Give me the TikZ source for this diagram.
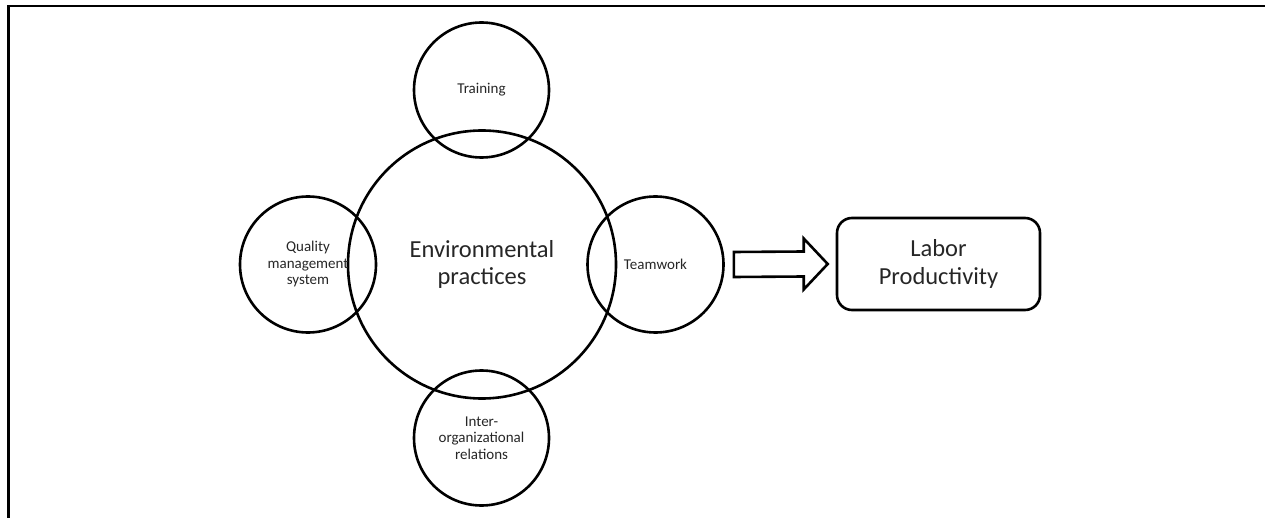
\documentclass[tikz,border=0pt]{standalone}
\usepackage{fontspec}
\setmainfont{Carlito}
\usetikzlibrary{calc}
\begin{document}
\begin{tikzpicture}[x=1pt,y=-1pt,
  ring/.style={draw=black,line width=2.6pt,circle,inner sep=0pt,minimum size=#1,text=black!85,align=center},
  smalltxt/.style={font=\fontsize{15}{16.5}\selectfont},
  bigtxt/.style={font=\fontsize{24.5}{27.5}\selectfont},
  outbox/.style={draw=black,line width=2.6pt,rounded corners=15pt,minimum width=203pt,minimum height=92pt,inner sep=0pt,text=black!85,align=center},
  blockarrow/.style={draw=black,line width=2.6pt,line join=miter}
]
\useasboundingbox (0,0) rectangle (1265,518);
% frame
\draw[line width=2.6pt] (8.5,518) -- (8.5,6) -- (1265,6);
% circles
\node[ring=268pt,bigtxt] (env) at (482,264.5) {Environmental\\practices};
\node[ring=135pt,smalltxt] (tr) at (481.5,90) {Training};
\node[ring=136pt,smalltxt] (qm) at (308,264.5) {Quality\\management\\system};
\node[ring=136pt,smalltxt] (tw) at (655.5,264.5) {Teamwork};
\node[ring=135pt,smalltxt] (ir) at (481.5,438) {Inter-\\organizational\\relations};
% output box
\node[outbox,bigtxt] (lp) at (938.5,264) {Labor\\Productivity};
% block arrow from teamwork to box
\coordinate (as) at ($(tw.east)+(9,0)$);
\coordinate (at) at ($(lp.west)+(-8,0)$);
\draw[blockarrow] ($(as)+(0,-12.5)$) -- ($(at)+(-24,-12.5)$) -- ($(at)+(-24,-25.5)$) -- (at) -- ($(at)+(-24,25.5)$) -- ($(at)+(-24,12.5)$) -- ($(as)+(0,12.5)$) -- cycle;
\end{tikzpicture}
\end{document}
